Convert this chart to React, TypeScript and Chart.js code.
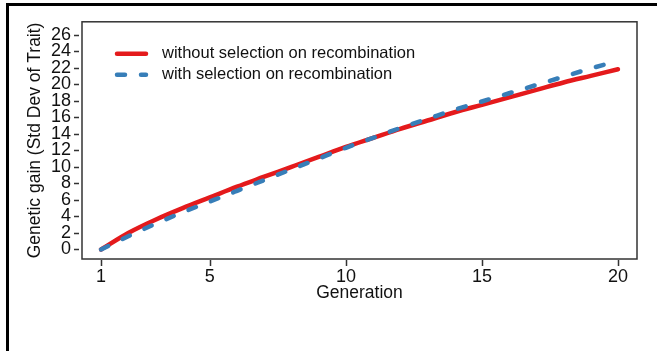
import React, { useEffect, useRef } from "react";
import { Chart, registerables } from "chart.js";

Chart.register(...registerables);

const generations = [1, 2, 3, 4, 5, 6, 7, 8, 9, 10, 11, 12, 13, 14, 15, 16, 17, 18, 19, 20];
const withoutSelection = [0, 2.0, 3.6, 5.0, 6.3, 7.6, 8.8, 10.0, 11.2, 12.4, 13.5, 14.6, 15.6, 16.6, 17.5, 18.4, 19.3, 20.2, 21.0, 21.8];
const withSelection = [0, 1.6, 3.1, 4.5, 5.8, 7.1, 8.4, 9.7, 11.0, 12.3, 13.5, 14.7, 15.8, 16.9, 17.9, 18.9, 19.9, 20.9, 21.9, 22.8];
const xTicks = [1, 5, 10, 15, 20];
const yTicks = [0, 2, 4, 6, 8, 10, 12, 14, 16, 18, 20, 22, 24, 26];
const seriesLabels = ["without selection on recombination", "with selection on recombination"];

const FONT = "'Liberation Sans', Arial, sans-serif";
const RED = "#E41A1C";
const BLUE = "#377EB8";

const framePlugin = {
  id: "framePlugin",
  afterDraw(chart: any) {
    const { ctx, chartArea, scales } = chart;
    ctx.save();
    // outer frame (left and top)
    ctx.fillStyle = "#000";
    ctx.fillRect(6, 3, 651, 3);
    ctx.fillRect(6, 3, 3, 348);
    // plot box
    ctx.strokeStyle = "#333";
    ctx.lineWidth = 1.5;
    ctx.strokeRect(chartArea.left, chartArea.top, chartArea.right - chartArea.left, chartArea.bottom - chartArea.top);
    // tick marks
    ctx.beginPath();
    for (const t of scales.y.ticks) {
      const py = Math.round(scales.y.getPixelForValue(t.value)) + 0.5;
      ctx.moveTo(chartArea.left - 8, py);
      ctx.lineTo(chartArea.left - 3, py);
    }
    for (const t of scales.x.ticks) {
      const px = Math.round(scales.x.getPixelForValue(t.value)) + 0.5;
      ctx.moveTo(px, chartArea.bottom + 1);
      ctx.lineTo(px, chartArea.bottom + 7);
    }
    ctx.stroke();
    // legend
    const ds = chart.data.datasets;
    [0, 1].forEach((i, row) => {
      const d = ds[i];
      const y = chartArea.top + 32 + row * 21;
      const x0 = chartArea.left + 35;
      const x1 = chartArea.left + 64;
      ctx.beginPath();
      ctx.strokeStyle = d.borderColor;
      ctx.lineWidth = d.borderWidth;
      ctx.lineCap = d.borderCapStyle || "butt";
      ctx.setLineDash(d.borderDash || []);
      ctx.moveTo(x0, y);
      ctx.lineTo(x1, y);
      ctx.stroke();
      ctx.setLineDash([]);
      ctx.fillStyle = "#111";
      ctx.font = `16.5px ${FONT}`;
      ctx.textBaseline = "middle";
      ctx.textAlign = "left";
      ctx.fillText(d.label, chartArea.left + 80, y);
    });
    ctx.restore();
  },
};

export default function App() {
  const ref = useRef<HTMLCanvasElement | null>(null);
  useEffect(() => {
    if (!ref.current) return;
    const chart = new Chart(ref.current, {
      type: "line",
      data: {
        datasets: [
          {
            label: seriesLabels[0],
            data: generations.map((g, i) => ({ x: g, y: withoutSelection[i] })),
            borderColor: RED,
            borderWidth: 4.5,
            borderCapStyle: "round",
            pointRadius: 0,
            cubicInterpolationMode: "monotone",
            fill: false,
            order: 2,
          },
          {
            label: seriesLabels[1],
            data: generations.map((g, i) => ({ x: g, y: withSelection[i] })),
            borderColor: BLUE,
            borderWidth: 4.5,
            borderDash: [8, 16],
            borderCapStyle: "round",
            pointRadius: 0,
            cubicInterpolationMode: "monotone",
            fill: false,
            order: 1,
          },
        ],
      },
      options: {
        responsive: false,
        animation: false,
        devicePixelRatio: 1,
        layout: { padding: { left: 0, top: 17, right: 20, bottom: 0 } },
        plugins: { legend: { display: false }, tooltip: { enabled: false } },
        scales: {
          x: {
            type: "linear",
            min: 0.3,
            max: 20.7,
            grid: { display: false, drawTicks: false },
            border: { display: false },
            afterBuildTicks: (s: any) => {
              s.ticks = xTicks.map((v) => ({ value: v }));
            },
            afterFit: (s: any) => {
              s.height = 92;
            },
            ticks: {
              autoSkip: false,
              maxRotation: 0,
              padding: 7,
              color: "#111",
              font: { family: FONT, size: 18 },
              callback: (v: any) => String(v),
            },
            title: {
              display: true,
              text: "Generation",
              color: "#111",
              font: { family: FONT, size: 17.5 },
              padding: { top: 0, bottom: 47.5 },
            },
          },
          y: {
            type: "linear",
            min: -1.15,
            max: 27.54,
            grid: { display: false, drawTicks: false },
            border: { display: false },
            afterBuildTicks: (s: any) => {
              s.ticks = yTicks.map((v) => ({ value: v }));
            },
            afterFit: (s: any) => {
              s.width = 82;
            },
            ticks: {
              autoSkip: false,
              padding: 11,
              color: "#111",
              font: { family: FONT, size: 18 },
              callback: (v: any) => String(v),
            },
            title: {
              display: true,
              text: "Genetic gain (Std Dev of Trait)",
              color: "#111",
              font: { family: FONT, size: 17.5 },
              padding: { top: 24.5, bottom: 0 },
            },
          },
        },
      },
      plugins: [framePlugin],
    });
    return () => chart.destroy();
  }, []);
  return (
    <div style={{ position: "fixed", left: 0, top: 0, width: 657, height: 351, background: "#fff" }}>
      <canvas ref={ref} width={657} height={351} style={{ display: "block" }} />
    </div>
  );
}
